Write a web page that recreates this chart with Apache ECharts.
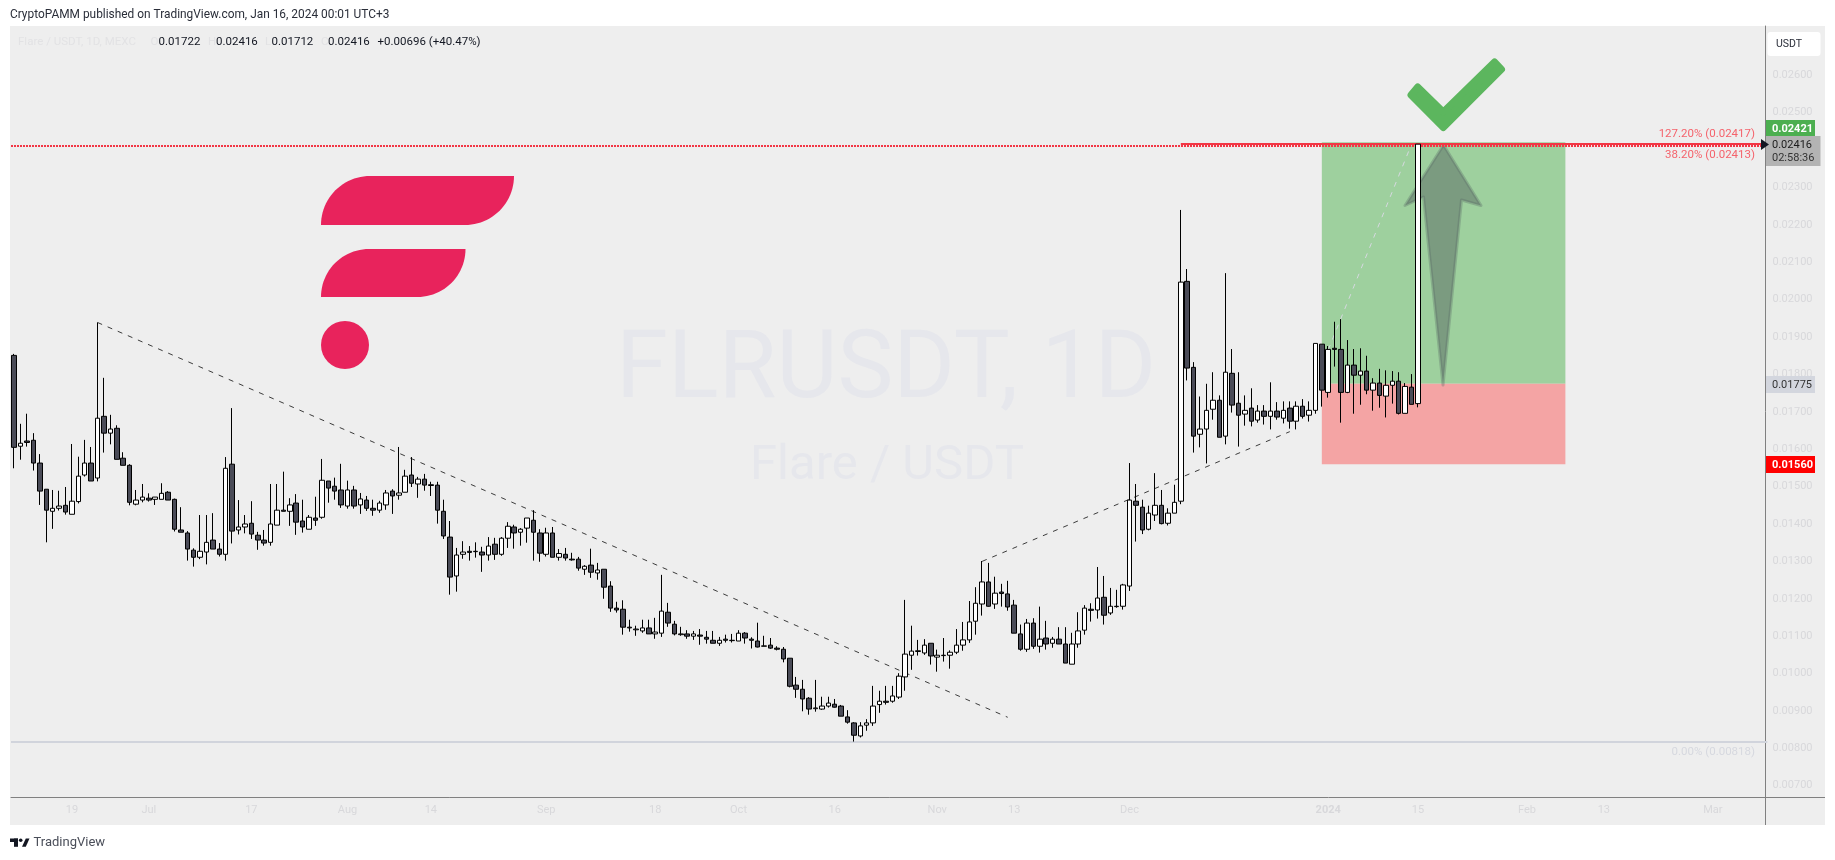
<!DOCTYPE html>
<html><head><meta charset="utf-8">
<style>html,body{margin:0;padding:0;background:#fff}#c{width:1835px;height:860px}</style>
<script src="https://cdn.jsdelivr.net/npm/echarts@6/dist/echarts.min.js"></script>
</head><body><div id="c"></div>
<script>
const FONT = 'Roboto, "Liberation Sans", sans-serif';
const firstDate = Date.UTC(2023, 5, 10);
const barCount = 274;
const categories = Array.from({length: barCount}, (_, i) => new Date(firstDate + i * 864e5).toISOString().slice(0, 10));
const timeTickDates = ['2023-06-19','2023-07-01','2023-07-17','2023-08-01','2023-08-14','2023-09-01','2023-09-18','2023-10-01','2023-10-16','2023-11-01','2023-11-13','2023-12-01','2024-01-01','2024-01-15','2024-02-01','2024-02-13','2024-03-01'];
const timeTickLabels = ['19','Jul','17','Aug','14','Sep','18','Oct','16','Nov','13','Dec','2024','15','Feb','13','Mar'];
const priceTicks = [0.007,0.008,0.009,0.010,0.011,0.012,0.013,0.014,0.015,0.016,0.017,0.018,0.019,0.020,0.021,0.022,0.023,0.025,0.026];

const opens = [.01851,.01608,.01622,.01624,.01563,.01493,.01434,.01442,.01450,.01426,
.01460,.01531,.01563,.01523,.01688,.01643,.01656,.01576,.01557,.01453,
.01464,.01469,.01466,.01466,.01485,.01466,.01384,.01376,.01330,.01311,
.01325,.01357,.01333,.01319,.01560,.01384,.01392,.01402,.01370,.01357,
.01351,.01397,.01437,.01434,.01456,.01408,.01386,.01416,.01418,.01515,
.01501,.01491,.01448,.01491,.01451,.01464,.01442,.01437,.01451,.01488,
.01477,.01485,.01531,.01507,.01520,.01505,.01504,.01434,.01365,.01261,
.01319,.01327,.01326,.01325,.01317,.01346,.01319,.01362,.01392,.01378,
.01389,.01410,.01376,.01319,.01376,.01311,.01319,.01306,.01306,.01279,
.01290,.01269,.01279,.01234,.01175,.01172,.01124,.01117,.01114,.01122,
.01106,.01108,.01164,.01132,.01104,.01106,.01100,.01103,.01097,.01089,
.01081,.01092,.01088,.01087,.01108,.01092,.01087,.01073,.01076,.01068,
.01065,.01041,.00969,.00958,.00934,.00906,.00905,.00913,.00918,.00913,
.00884,.00868,.00833,.00862,.00868,.00917,.00926,.00926,.00937,.00991,
.01049,.01059,.01055,.01081,.01044,.01048,.01049,.01057,.01076,.01090,
.01140,.01186,.01245,.01186,.01218,.01213,.01183,.01106,.01065,.01135,
.01073,.01095,.01081,.01092,.01079,.01025,.01079,.01116,.01172,.01170,
.01204,.01162,.01179,.01180,.01234,.01461,.01445,.01386,.01424,.01450,
.01402,.01429,.01461,.02049,.01819,.01640,.01654,.01707,.01731,.01635,
.01803,.01723,.01694,.01710,.01678,.01702,.01688,.01702,.01683,.01710,
.01675,.01715,.01691,.01704,.01881,.01752,.01870,.01867,.01752,.01825,
.01798,.01809,.01758,.01777,.01742,.01771,.01782,.01696,.01766,.01722];

const closes = [.01605,.01616,.01618,.01563,.01488,.01437,.01442,.01448,.01432,.01461,
.01528,.01563,.01515,.01683,.01643,.01654,.01573,.01557,.01458,.01464,
.01472,.01464,.01472,.01482,.01464,.01386,.01378,.01333,.01311,.01327,
.01351,.01333,.01319,.01549,.01381,.01392,.01400,.01373,.01357,.01349,
.01400,.01437,.01434,.01451,.01405,.01392,.01418,.01410,.01517,.01496,
.01488,.01451,.01491,.01448,.01467,.01442,.01437,.01456,.01483,.01475,
.01483,.01528,.01509,.01520,.01504,.01503,.01437,.01368,.01258,.01317,
.01325,.01324,.01327,.01317,.01341,.01319,.01362,.01394,.01376,.01386,
.01416,.01378,.01322,.01376,.01311,.01321,.01309,.01304,.01282,.01287,
.01271,.01277,.01231,.01175,.01170,.01124,.01122,.01119,.01122,.01106,
.01111,.01167,.01135,.01106,.01106,.01100,.01106,.01100,.01092,.01081,
.01089,.01089,.01089,.01108,.01095,.01089,.01071,.01074,.01068,.01065,
.01039,.00966,.00958,.00932,.00905,.00908,.00913,.00921,.00910,.00886,
.00870,.00835,.00860,.00868,.00913,.00926,.00923,.00940,.00993,.01052,
.01060,.01061,.01076,.01047,.01049,.01049,.01057,.01076,.01090,.01138,
.01188,.01245,.01180,.01215,.01214,.01178,.01108,.01065,.01135,.01073,
.01092,.01079,.01092,.01079,.01028,.01079,.01114,.01175,.01169,.01202,
.01156,.01180,.01180,.01237,.01464,.01450,.01384,.01429,.01450,.01401,
.01429,.01458,.02047,.01817,.01635,.01654,.01704,.01731,.01632,.01806,
.01718,.01691,.01704,.01675,.01702,.01688,.01702,.01686,.01704,.01675,
.01715,.01688,.01704,.01883,.01758,.01867,.01867,.01752,.01825,.01798,
.01809,.01758,.01777,.01744,.01771,.01782,.01696,.01768,.01720,.02416];

const highs = [.01855,.01668,.01695,.01643,.01587,.01493,.01491,.01489,.01499,.01614,
.01580,.01625,.01606,.01939,.01791,.01692,.01664,.01592,.01560,.01491,
.01507,.01482,.01472,.01509,.01488,.01468,.01445,.01381,.01335,.01424,
.01424,.01429,.01349,.01579,.01710,.01464,.01424,.01461,.01379,.01384,
.01507,.01507,.01540,.01469,.01480,.01465,.01424,.01473,.01574,.01515,
.01524,.01561,.01516,.01502,.01483,.01475,.01465,.01462,.01491,.01493,
.01606,.01545,.01579,.01526,.01534,.01513,.01513,.01465,.01408,.01336,
.01354,.01341,.01351,.01339,.01365,.01363,.01365,.01405,.01398,.01389,
.01416,.01437,.01386,.01390,.01392,.01333,.01336,.01323,.01312,.01290,
.01334,.01296,.01279,.01247,.01192,.01196,.01144,.01128,.01144,.01144,
.01149,.01264,.01189,.01141,.01125,.01116,.01114,.01119,.01114,.01114,
.01098,.01104,.01106,.01116,.01111,.01097,.01136,.01101,.01095,.01073,
.01071,.01041,.00991,.00983,.00937,.00983,.00938,.00938,.00932,.00916,
.00902,.00870,.00870,.00878,.00967,.00954,.00967,.00967,.01001,.01197,
.01128,.01090,.01092,.01081,.01064,.01095,.01062,.01119,.01138,.01194,
.01231,.01301,.01296,.01259,.01240,.01248,.01197,.01131,.01146,.01148,
.01179,.01141,.01098,.01124,.01124,.01109,.01164,.01183,.01188,.01285,
.01261,.01229,.01224,.01240,.01563,.01507,.01465,.01449,.01536,.01491,
.01442,.01505,.02240,.02082,.01833,.01741,.01775,.01806,.01744,.02071,
.01868,.01806,.01744,.01763,.01718,.01718,.01779,.01726,.01728,.01728,
.01728,.01734,.01728,.01883,.01881,.01876,.01941,.01948,.01892,.01868,
.01870,.01850,.01790,.01815,.01811,.01809,.01806,.01777,.01801,.02416];

const lows = [.01549,.01572,.01607,.01543,.01451,.01351,.01387,.01436,.01425,.01426,
.01455,.01527,.01515,.01514,.01591,.01613,.01573,.01557,.01450,.01450,
.01458,.01460,.01451,.01466,.01464,.01380,.01378,.01302,.01286,.01306,
.01292,.01333,.01313,.01302,.01348,.01372,.01375,.01360,.01331,.01342,
.01342,.01397,.01434,.01395,.01371,.01377,.01386,.01395,.01414,.01457,
.01465,.01443,.01441,.01441,.01427,.01435,.01422,.01430,.01438,.01427,
.01465,.01485,.01499,.01470,.01489,.01475,.01401,.01360,.01211,.01219,
.01307,.01302,.01310,.01272,.01302,.01304,.01315,.01336,.01334,.01342,
.01350,.01302,.01299,.01313,.01311,.01302,.01302,.01302,.01275,.01264,
.01256,.01251,.01200,.01165,.01163,.01104,.01112,.01101,.01109,.01106,
.01093,.01098,.01125,.01102,.01101,.01093,.01090,.01077,.01080,.01081,
.01074,.01083,.01083,.01087,.01080,.01067,.01070,.01073,.01066,.01062,
.01030,.00963,.00935,.00899,.00890,.00898,.00903,.00909,.00909,.00886,
.00866,.00818,.00829,.00847,.00860,.00895,.00917,.00922,.00932,.00954,
.01010,.01048,.01050,.01024,.01005,.01032,.01013,.01052,.01061,.01082,
.01104,.01155,.01179,.01173,.01179,.01168,.01108,.01061,.01058,.01066,
.01056,.01064,.01069,.01079,.01028,.01025,.01069,.01104,.01139,.01147,
.01131,.01157,.01176,.01171,.01221,.01353,.01373,.01383,.01408,.01399,
.01396,.01429,.01453,.01784,.01591,.01605,.01562,.01679,.01632,.01613,
.01698,.01607,.01663,.01661,.01671,.01666,.01653,.01679,.01669,.01655,
.01653,.01682,.01674,.01695,.01714,.01738,.01821,.01671,.01750,.01695,
.01719,.01747,.01703,.01711,.01685,.01722,.01693,.01696,.01720,.01712];

const fibLevels = [0.02417, 0.02413, 0.00818];
const targetPrice = 0.02421, entryPrice = 0.01775, stopPrice = 0.01560;
const zoneFrom = '2023-12-31', zoneTo = '2024-02-07';
const downTrend = [['2023-06-23', 0.01939], ['2023-11-12', 0.00883]];
const upTrend = [['2023-11-08', 0.01300], ['2023-12-26', 0.01647]];
const fibTrend = [['2024-01-01', 0.01866], ['2024-01-14', 0.02416]];
const fibStart = '2023-12-09';

const GREY = '#d8d8db';
const chart = echarts.init(document.getElementById('c'), null, {renderer: 'canvas'});
const txt = (x, y, text, o = {}) => ({type: 'text', z: o.z ?? 100, x, y, silent: true, style: {
  text, x: 0, y: 0, fill: o.fill || '#131722', font: `${o.weight || 'normal'} ${o.size || 11}px ${FONT}`,
  align: o.align || 'left', verticalAlign: 'middle'}});
const rect = (x, y, w, h, fill, z = 90, r = 0) => ({type: 'rect', z, silent: true, shape: {x, y, width: w, height: h, r}, style: {fill}});
const line = (x1, y1, x2, y2, stroke) => ({type: 'line', z: 90, silent: true, shape: {x1, y1, x2, y2}, style: {stroke, lineWidth: 1}});
const poly = (points, style, z) => ({type: 'polygon', z, silent: true, shape: {points}, style});
// logo bar: a rectangle whose top-left and bottom-right corners are quarter circles
const leaf = (x0, y0, x1, y1, fill) => {
  const r = y1 - y0, pts = [];
  for (let k = 0; k <= 24; k++) { const a = Math.PI + k / 24 * Math.PI / 2; pts.push([x0 + r + r * Math.cos(a), y1 + r * Math.sin(a)]); }
  for (let k = 0; k <= 24; k++) { const a = k / 24 * Math.PI / 2; pts.push([x1 - r + r * Math.cos(a), y0 + r * Math.sin(a)]); }
  return poly(pts, {fill}, 2);
};

const graphic = [
  rect(10, 26, 1815, 799, '#eeeeee', -10),
  txt(10, 15, 'CryptoPAMM published on TradingView.com, Jan 16, 2024 00:01 UTC+3', {size: 11.9, fill: '#2a2e39'}),
  txt(18, 42, 'Flare / USDT, 1D, MEXC', {size: 11.5, fill: '#e2e2e4'}),
  txt(150.5, 42, 'O', {size: 11.5, fill: '#e2e2e4'}), txt(158.6, 42, '0.01722', {size: 11.5}),
  txt(208, 42, 'H', {size: 11.5, fill: '#e2e2e4'}), txt(216, 42, '0.02416', {size: 11.5}),
  txt(265, 42, 'L', {size: 11.5, fill: '#e2e2e4'}), txt(271.5, 42, '0.01712', {size: 11.5}),
  txt(321, 42, 'C', {size: 11.5, fill: '#e2e2e4'}), txt(328, 42, '0.02416', {size: 11.5}),
  txt(377.6, 42, '+0.00696 (+40.47%)', {size: 11.5}),
  // watermark
  txt(886, 373, 'FLRUSDT, 1D', {z: 0, size: 94, fill: '#e6e7ec', align: 'center'}),
  txt(887, 467, 'Flare / USDT', {z: 0, size: 49, fill: '#e6e7ec', align: 'center'}),
  // logo
  leaf(321, 176, 514, 225, '#e8235c'),
  leaf(321, 249, 465.5, 297, '#e8235c'),
  {type: 'circle', z: 2, silent: true, shape: {cx: 345, cy: 345, r: 24}, style: {fill: '#e8235c'}},
  // check
  poly([[1417.7,87],[1411,95],[1443.3,127.5],[1501.5,69.3],[1494.5,62],[1443.3,112]], {fill: '#5cb65e', stroke: '#5cb65e', lineWidth: 7, lineJoin: 'round'}, 2),
  // arrow
  poly([[1443.5,145],[1405,205.5],[1423.5,197],[1443,385],[1461.5,200],[1481,205.5]], {fill: 'rgba(88,102,98,0.5)', stroke: 'rgba(88,102,98,0.32)', lineWidth: 3, lineJoin: 'round'}, 2),
  // axis extensions
  line(1765.5, 797, 1765.5, 825, '#808080'),
  line(1765, 797.5, 1825, 797.5, '#808080'),
  // fib labels
  txt(1755, 134, '127.20% (0.02417)', {align: 'right', fill: '#f5636c', size: 11.5}),
  txt(1755, 155, '38.20% (0.02413)', {align: 'right', fill: '#f5636c', size: 11.5}),
  txt(1755, 752, '0.00% (0.00818)', {align: 'right', fill: '#d6d8df', size: 11.5}),
  // price scale tags
  rect(1767.5, 32, 53, 24, '#ffffff', 90, 3), txt(1776, 44.5, 'USDT', {size: 10.5, fill: '#2a2e39'}),
  rect(1766, 120, 49, 18, '#4caf50'), txt(1772, 129, '0.02421', {fill: '#fff', weight: 'bold'}),
  rect(1766, 136, 54.5, 30, '#b3b3b3'), txt(1772, 145, '0.02416', {fill: '#1c1c1c'}), txt(1772, 158, '02:58:36', {fill: '#333'}),
  poly([[1761,139],[1769,144.5],[1761,150]], {fill: '#131722'}, 91),
  rect(1766, 376, 49, 17, '#d3d6de'), txt(1772, 385, '0.01775', {fill: '#333'}),
  rect(1766, 456, 49, 17, '#ff0000'), txt(1772, 465, '0.01560', {fill: '#fff', weight: 'bold'}),
  // tradingview logo
  rect(10, 838.5, 8, 3.5, '#131722'), rect(14, 838.5, 4, 8.3, '#131722'),
  {type: 'circle', z: 90, silent: true, shape: {cx: 20.7, cy: 840.3, r: 1.8}, style: {fill: '#131722'}},
  poly([[22,846.8],[25.8,838.5],[29.5,838.5],[25.8,846.8]], {fill: '#131722'}, 90),
  txt(33.5, 843, 'TradingView', {size: 13, fill: '#4a4e59'})
];

const dashed = {type: [5, 6], color: '#3c3c3c', width: 1};
chart.setOption({
  animation: false,
  backgroundColor: '#ffffff',
  graphic,
  grid: {left: 11, top: 26, width: 1756.3, height: 771, containLabel: false},
  xAxis: {
    type: 'category', data: categories, boundaryGap: true,
    axisLine: {lineStyle: {color: '#808080', width: 1}}, axisTick: {show: false},
    splitLine: {show: false},
    axisLabel: {
      interval: (i, v) => timeTickDates.includes(v),
      formatter: v => { const t = timeTickLabels[timeTickDates.indexOf(v)]; return t === '2024' ? '{b|2024}' : t; },
      color: GREY, fontFamily: FONT, fontSize: 11, margin: 8,
      rich: {b: {color: GREY, fontFamily: FONT, fontSize: 11, fontWeight: 'bold'}}
    }
  },
  yAxis: {
    type: 'value', position: 'right', offset: -1.8, min: 0.006698, max: 0.02732, scale: true,
    axisLine: {show: true, onZero: false, lineStyle: {color: '#808080', width: 1}}, axisTick: {show: false},
    splitLine: {show: false},
    axisLabel: {customValues: priceTicks, formatter: v => v.toFixed(5), color: GREY, fontFamily: FONT, fontSize: 11, margin: 7, showMinLabel: true, showMaxLabel: true}
  },
  series: [
    {
      name: 'Zones', type: 'line', data: [], z: 1, silent: true,
      markArea: {silent: true, itemStyle: {borderWidth: 0}, data: [
        [{xAxis: zoneFrom, yAxis: targetPrice, itemStyle: {color: '#9ed09e'}}, {xAxis: zoneTo, yAxis: entryPrice}],
        [{xAxis: zoneFrom, yAxis: entryPrice, itemStyle: {color: '#f4a4a4'}}, {xAxis: zoneTo, yAxis: stopPrice}]
      ]}
    },
    {
      name: 'FLRUSDT', type: 'candlestick', z: 5, barWidth: 5, silent: true,
      data: opens.map((o, i) => [o, closes[i], lows[i], highs[i]]),
      itemStyle: {color: '#ffffff', color0: '#4a4b57', borderColor: '#000000', borderColor0: '#000000', borderWidth: 1}
    },
    {
      name: 'Lines', type: 'line', data: [], z: 6, silent: true,
      markLine: {silent: true, symbol: 'none', precision: 5, label: {show: false}, animation: false, data: [
        [{coord: downTrend[0], lineStyle: dashed}, {coord: downTrend[1]}],
        [{coord: upTrend[0], lineStyle: dashed}, {coord: upTrend[1]}],
        [{coord: fibTrend[0], lineStyle: {type: [5, 6], color: '#d6d9e0', width: 1}}, {coord: fibTrend[1]}],
        {yAxis: fibLevels[1], lineStyle: {type: [2, 1], color: '#f23645', width: 2}},
        {yAxis: fibLevels[2], lineStyle: {type: 'solid', color: '#d1d4dc', width: 2}},
        [{coord: [fibStart, fibLevels[0]], lineStyle: {type: 'solid', color: '#f23645', width: 2}}, {coord: [categories[barCount - 1], fibLevels[0]]}]
      ]}
    }
  ]
});
</script></body></html>
